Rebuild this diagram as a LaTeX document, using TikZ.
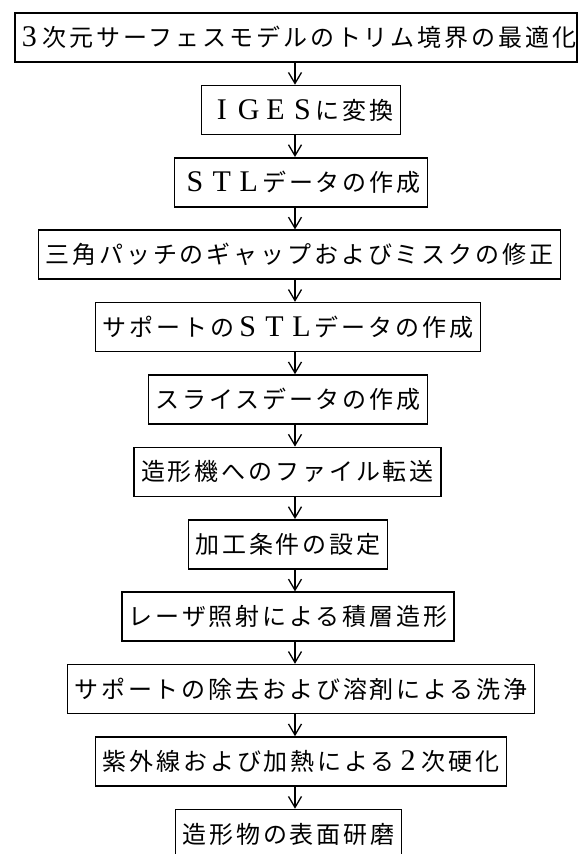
\documentclass[tikz,border=0pt]{standalone}
\usepackage{fontspec}
\setmainfont{Noto Sans CJK JP}[LetterSpace=12]
\newfontfamily\latinser{Liberation Serif}
\usetikzlibrary{arrows.meta}
\newlength\cellw
\setlength\cellw{26.9pt}
\newcommand\fwc[1]{\makebox[\cellw][c]{\latinser\fontsize{30}{30}\selectfont #1}}
\begin{document}
\begin{tikzpicture}[x=1pt,y=-1pt,
  stepbox/.style={draw, line width=1.6pt, minimum height=49pt, inner xsep=7pt, inner ysep=0pt,
    font=\fontsize{24}{28}\selectfont, anchor=center},
  flow/.style={line width=1.3pt, -{Straight Barb[length=11pt,width=13pt,line width=1.3pt]}}]
\clip (0,0) rectangle (582,854);
\useasboundingbox (0,0) rectangle (582,854);
\fill[white] (0,0) rectangle (582,854);
\node[stepbox, inner xsep=1pt] (s1) at (296,37.5) {\fwc{3}次元サーフェスモデルのトリム境界の最適化};
\node[stepbox] (s2) at (301,110) {\fwc{I}\fwc{G}\fwc{E}\fwc{S}に変換};
\node[stepbox] (s3) at (301,182.3) {\fwc{S}\fwc{T}\fwc{L}データの作成};
\node[stepbox] (s4) at (299.5,254.7) {三角パッチのギャップおよびミスクの修正};
\node[stepbox] (s5) at (288,327.1) {サポートの\fwc{S}\fwc{T}\fwc{L}データの作成};
\node[stepbox] (s6) at (288,399.5) {スライスデータの作成};
\node[stepbox] (s7) at (287.5,471.9) {造形機へのファイル転送};
\node[stepbox] (s8) at (288,544.3) {加工条件の設定};
\node[stepbox] (s9) at (288,616.7) {レーザ照射による積層造形};
\node[stepbox] (s10) at (301,689.1) {サポートの除去および溶剤による洗浄};
\node[stepbox] (s11) at (301,761.5) {紫外線および加熱による\fwc{2}次硬化};
\node[stepbox] (s12) at (288.5,834) {造形物の表面研磨};
\coordinate (ax) at (295,0);
\foreach \a/\b in {s1/s2,s2/s3,s3/s4,s4/s5,s5/s6,s6/s7,s7/s8,s8/s9,s9/s10,s10/s11,s11/s12}{
  \draw[flow] (\a.south -| ax) -- (\b.north -| ax);
}
\end{tikzpicture}
\end{document}
